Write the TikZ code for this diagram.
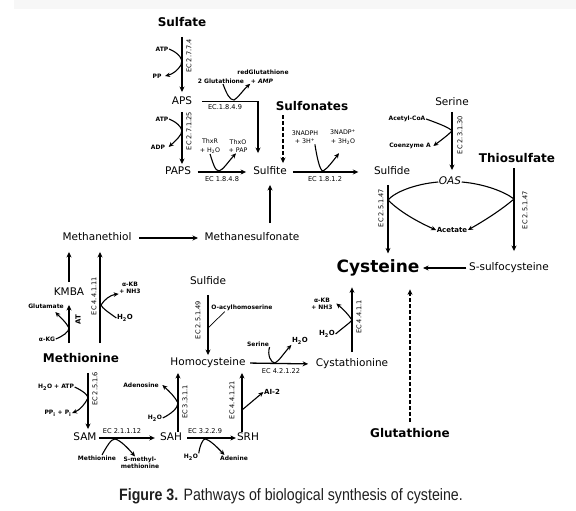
\documentclass[tikz,border=0pt]{standalone}
\usepackage{fontspec}
\usepackage{graphicx}
\setmainfont{DejaVu Sans}
\newfontfamily\capfont{Liberation Sans}
\usetikzlibrary{arrows.meta}
\begin{document}
\begin{tikzpicture}[x=1pt,y=-1pt,
  lbl/.style={font=\fontsize{10.5}{12}\selectfont, inner sep=0.5pt, text height=8pt, text depth=2.5pt},
  ttl/.style={font=\bfseries\fontsize{12}{14}\selectfont, inner sep=0.5pt, text height=9pt, text depth=2.5pt},
  co/.style={font=\bfseries\fontsize{6}{7}\selectfont, inner sep=0.5pt, align=center},
  cob/.style={font=\bfseries\fontsize{7}{8}\selectfont, inner sep=0.5pt, align=center},
  cor/.style={font=\fontsize{6.3}{8.5}\selectfont, inner sep=0.5pt, align=center},
  ec/.style={font=\fontsize{6.6}{7}\selectfont, inner sep=0.5pt},
  ecv/.style={ec, rotate=90},
  arr/.style={line width=1.3pt, -{Stealth[length=5.5pt,width=5pt]}},
  ln/.style={line width=1.1pt},
  side/.style={line width=1.1pt, -{Stealth[length=5pt,width=4.5pt]}},
  darr/.style={arr, dash pattern=on 4pt off 2pt},
]
\useasboundingbox (0,0) rectangle (576,511);
\fill[black!3] (14,0) rectangle (576,9);

% ---- main compounds ----
\node[ttl] (sulfate) at (182,23) {Sulfate};
\node[lbl] (aps) at (182,101.5) {APS};
\node[lbl] (paps) at (178,172) {PAPS};
\node[lbl] (sulfite) at (270,172) {Sulfite};
\node[ttl] (sulfonates) at (312,107) {Sulfonates};
\node[lbl] (sulfideA) at (392,172) {Sulfide};
\node[lbl] (serine) at (452,103) {Serine};
\node[lbl] (oas) at (450,182) {\itshape OAS};
\node[ttl] (thiosulfate) at (517,159) {Thiosulfate};
\node[cob] (acetate) at (452,230) {Acetate};
\node[font=\bfseries\fontsize{17}{20}\selectfont, inner sep=0.5pt, anchor=base] (cysteine) at (378,272) {Cysteine};
\node[lbl] (ssulfo) at (509,268) {S-sulfocysteine};
\node[lbl] (methanethiol) at (97,238) {Methanethiol};
\node[lbl] (methanesulf) at (252,238) {Methanesulfonate};
\node[lbl] (kmba) at (69,293) {KMBA};
\node[ttl] (methionine) at (81,359) {Methionine};
\node[lbl] (sulfideB) at (208,282) {Sulfide};
\node[lbl] (homocys) at (208,363) {Homocysteine};
\node[lbl] (cystath) at (352,364) {Cystathionine};
\node[ttl] (glutathione) at (410,434) {Glutathione};
\node[lbl] (sam) at (85,438) {SAM};
\node[lbl] (sah) at (171,438) {SAH};
\node[lbl] (srh) at (248,438) {SRH};

% ---- cofactors and enzyme labels ----
\node[co] (atp1) at (162,49) {ATP};
\node[co] (pp1) at (157,76) {PP};
\node[ecv] (ec1) at (189,56) {EC 2.7.7.4};
\node[co] (gsh2) at (221,81) {2 Glutathione};
\node[co] (redgsh) at (263,72) {redGlutathione};
\node[co] (amp) at (262,81) {+ \itshape AMP};
\node[ec] (ec2) at (225,107) {EC.1.8.4.9};
\node[co] (atp2) at (162,119) {ATP};
\node[co] (adp) at (158,147) {ADP};
\node[ecv] (ec3) at (189,131) {EC 2.7.1.25};
\node[cor] (thxr) at (210,146) {ThxR\\+ H\textsubscript{2}O};
\node[cor] (thxo) at (238,146) {ThxO\\+ PAP};
\node[ec] (ec4) at (222,179) {EC 1.8.4.8};
\node[cor] (nadph) at (305,137) {3NADPH\\+ 3H\textsuperscript{+}};
\node[cor] (nadp) at (343,137) {3NADP\textsuperscript{+}\\+ 3H\textsubscript{2}O};
\node[ec] (ec5) at (325,179) {EC 1.8.1.2};
\node[co] (acoa) at (407,119) {Acetyl-CoA};
\node[co] (coa) at (410,146) {Coenzyme A};
\node[ecv] (ec6) at (460,135) {EC 2.3.1.30};
\node[ecv] (ec7) at (381,208) {EC 2.5.1.47};
\node[ecv] (ec8) at (525,210) {EC 2.5.1.47};
\node[co] (akb1) at (130,287.5) {α-KB\\+ NH3};
\node[cob] (h2o1) at (125,318) {H\textsubscript{2}O};
\node[ecv] (ec9) at (94,296) {EC 4.4.1.11};
\node[co] (glu) at (46,306) {Glutamate};
\node[co] (akg) at (47,339) {α-KG};
\node[ecv, font=\bfseries\fontsize{7}{8}\selectfont] (at) at (78,320) {AT};
\node[ecv] (ec10) at (198,320) {EC 2.5.1.49};
\node[co] (oacyl) at (242,308) {O-acylhomoserine};
\node[co] (ser2) at (258,344) {Serine};
\node[cob] (h2o2) at (300,341) {H\textsubscript{2}O};
\node[ec] (ec11) at (281,371) {EC 4.2.1.22};
\node[co] (akb2) at (322,303.5) {α-KB\\+ NH3};
\node[cob] (h2o3) at (327,334) {H\textsubscript{2}O};
\node[ecv] (ec12) at (359,317) {EC 4.4.1.1};
\node[co] (h2oatp) at (56,387) {H\textsubscript{2}O + ATP};
\node[co] (ppi) at (58,413) {PP\textsubscript{i} + P\textsubscript{i}};
\node[ecv] (ec13) at (95,389) {EC 2.5.1.6};
\node[ec] (ec14) at (122,431) {EC 2.1.1.12};
\node[co] (met2) at (97,458) {Methionine};
\node[co] (smm) at (140,463) {S-methyl-\\methionine};
\node[co] (ado) at (141,385) {Adenosine};
\node[co] (h2o4) at (155,418) {H\textsubscript{2}O};
\node[ecv] (ec15) at (185,402) {EC 3.3.1.1};
\node[ec] (ec16) at (205,431) {EC 3.2.2.9};
\node[co] (h2o5) at (191,457) {H\textsubscript{2}O};
\node[co] (ade) at (234,458) {Adenine};
\node[ecv] (ec17) at (232,400) {EC 4.4.1.21};
\node[cob] (ai2) at (272,392) {AI-2};

% ---- main connectors ----
\draw[arr, shorten <=7.5pt, shorten >=3.5pt] (sulfate.south) -- (aps.north);
\coordinate (boxc) at (258,101.5);
\draw[arr, shorten >=13pt] ([xshift=9pt]aps.east) -- (boxc) -- (boxc |- sulfite.north);
\draw[arr, shorten <=4.5pt, shorten >=2pt] (aps.south) -- (aps.south |- paps.north);
\draw[arr, shorten <=6pt, shorten >=6.5pt] (paps.east) -- (sulfite.west);
\draw[darr, shorten <=2pt, shorten >=3pt] ([xshift=-29pt]sulfonates.south) -- ([xshift=-29pt]sulfonates.south |- sulfite.north);
\draw[arr, shorten <=5.5pt, shorten >=15pt] (sulfite.east) -- (sulfideA.west);
\draw[arr, shorten <=9pt, shorten >=7pt] (methanesulf.north -| sulfite) -- (sulfite.south);
\draw[arr, shorten <=7pt, shorten >=6pt] (methanethiol.east) -- (methanesulf.west);
\draw[arr, shorten <=3pt, shorten >=6pt] (serine.south) -- (serine.south |- oas.north);
\draw[arr, shorten <=7pt, shorten >=5pt] ([xshift=-4pt]sulfideA.south) -- ([xshift=-4pt]sulfideA.south |- cysteine.north);
\draw[arr, shorten <=3pt, shorten >=11pt] ([xshift=-3pt]thiosulfate.south) -- ([xshift=-3pt]thiosulfate.south |- ssulfo.north);
\draw[arr, shorten <=2pt, shorten >=3pt] (ssulfo.west) -- (ssulfo.west -| cysteine.east);
\draw[arr, shorten <=6pt, shorten >=11pt] (cystath.north) -- (cystath.north |- cysteine.south);
\draw[darr, shorten <=5.5pt, shorten >=13pt] (glutathione.north) -- (glutathione.north |- cysteine.south);
\draw[arr, shorten <=5pt, shorten >=8pt] (kmba.north) -- (kmba.north |- methanethiol.south);
\draw[arr, shorten <=9.5pt, shorten >=6pt] (methionine.north -| kmba) -- (kmba.south);
\draw[arr, shorten <=9.5pt, shorten >=8pt] ([xshift=19pt]methionine.north) -- ([xshift=19pt]methionine.north |- methanethiol.south);
\draw[arr, shorten <=7.5pt, shorten >=3pt] ([xshift=7pt]methionine.south) -- ([xshift=7pt]methionine.south |- sam.north);
\draw[arr, shorten <=1.5pt, shorten >=4.5pt] (sam.east) -- (sah.west);
\draw[arr, shorten <=0.5pt, shorten >=4pt] ([xshift=7pt]sah.north) -- ([xshift=7pt]sah.north |- homocys.south);
\draw[arr, shorten <=4.5pt, shorten >=0.5pt] (sah.east) -- (srh.west);
\draw[arr, shorten <=0.5pt, shorten >=4pt] ([xshift=-6pt]srh.north) -- ([xshift=-6pt]srh.north |- homocys.south);
\draw[arr, shorten <=7pt, shorten >=2pt] (sulfideB.south) -- (sulfideB.south |- homocys.north);
\draw[arr, shorten <=4pt, shorten >=7pt] (homocys.east) -- (cystath.west);

% ---- side reactions ----
\draw[side] (atp1.east) .. controls (179,53) and (184,60) .. (181,65) .. controls (178,70) and (173,74) .. ([xshift=3pt]pp1.east);
\draw[side] ([xshift=2pt]gsh2.south) .. controls (227,95) and (230,100) .. (234,100) .. controls (238,98) and (243,90) .. (amp.south west);
\draw[side] (atp2.east) .. controls (179,123) and (184,130) .. (181,134) .. controls (178,139) and (173,143) .. ([xshift=3pt]adp.east);
\draw[side] (thxr.south) .. controls (213,163) and (215,171) .. (219,171) .. controls (223,170) and (228,162) .. ([xshift=-2pt]thxo.south);
\draw[side] ([xshift=-4pt]nadph.south east) .. controls (317,158) and (320,171) .. (323,171) .. controls (327,169) and (333,161) .. ([shift={(-4,8)}]nadp.south);
\draw[side] (acoa.east) .. controls (440,124) and (450,128) .. (452,131) .. controls (447,136) and (440,141) .. ([xshift=2pt]coa.east);
\coordinate (lj) at (388,200);
\coordinate (rj) at (514,199);
\draw[ln] (oas.west) .. controls (415,184) and (395,192) .. (lj);
\draw[side] (lj) .. controls (400,212) and (418,222) .. (acetate.west);
\draw[ln] (oas.east) .. controls (485,184) and (505,192) .. (rj);
\draw[side] (rj) .. controls (500,211) and (482,222) .. (acetate.east);
\draw[side] (akg.east) .. controls (63,336) and (69,332) .. (69,328) .. controls (66,322) and (60,317) .. ([shift={(-9,3)}]glu.south east);
\draw[side] (h2o1.west) .. controls (108,312) and (102,308) .. (101,305) .. controls (104,300) and (110,295) .. (akb1.south west);
\coordinate (oa) at (208,328);
\draw[line width=0.7pt] ([xshift=14pt]oacyl.south west) -- (oa);
\draw[side] (ser2.south east) .. controls (267,355) and (271,363) .. (275,363) .. controls (279,361) and (284,353) .. (h2o2.south west);
\draw[side] (h2o3.east) .. controls (345,326) and (351,322) .. (352,320) .. controls (348,314) and (343,309) .. ([xshift=3pt]akb2.east);
\draw[side] (h2oatp.east) .. controls (83,391) and (88,395) .. (88,398) .. controls (85,404) and (80,410) .. (ppi.east);
\draw[side] ([xshift=5pt]met2.north) .. controls (107,446) and (111,439) .. (115,439) .. controls (120,440) and (128,448) .. ([xshift=-5pt]smm.north);
\draw[side] (h2o4.east) .. controls (171,414) and (178,408) .. (178,403) .. controls (175,397) and (170,392) .. ([xshift=3pt]ado.east);
\draw[side] (h2o5.north east) .. controls (200,445) and (203,439) .. (205,439) .. controls (210,440) and (217,447) .. ([xshift=5pt]ade.north west);
\coordinate (ai) at (242,410);
\draw[side] (ai) -- (ai2.west);

% ---- caption ----
\node[font=\capfont\fontsize{16.5}{18}\selectfont, text=black!88, anchor=base, inner sep=0pt] (cap) at (291,500) {\scalebox{0.86}[1]{\textbf{Figure 3.} Pathways of biological synthesis of cysteine.}};
\end{tikzpicture}
\end{document}
